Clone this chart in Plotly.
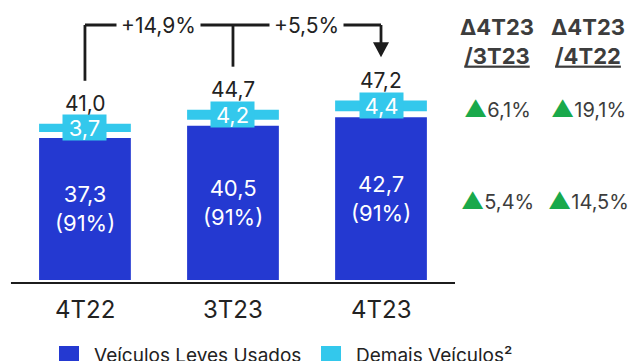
import plotly.graph_objects as go

# ---------------- data ----------------
categories = ["4T22", "3T23", "4T23"]
leves = [37.3, 40.5, 42.7]            # Veículos Leves Usados
demais = [3.7, 4.2, 4.4]              # Demais Veículos²
totals = [41.0, 44.7, 47.2]
leves_labels = ["37,3", "40,5", "42,7"]
share_labels = ["(91%)", "(91%)", "(91%)"]
demais_labels = ["3,7", "4,2", "4,4"]
total_labels = ["41,0", "44,7", "47,2"]
growth_labels = ["+14,9%", "+5,5%"]
table_headers = ["Δ4T23<br><u>/3T23</u>", "Δ4T23<br><u>/4T22</u>"]
table_demais = ["6,1%", "19,1%"]
table_leves = ["5,4%", "14,5%"]
legend_names = ["Veículos Leves Usados", "Demais Veículos²"]

# ---------------- style ----------------
DARK = "#2439D1"
LIGHT = "#33C8EC"
GREEN = "#19A94B"
TXT = "#222222"
GRAY = "#3d3d3d"
FONT = "Inter, Lato, sans-serif"

W, H = 643, 361
PB = 283                      # plot bottom in px (margin b = 78)
YMIN, YMAX = -0.79, 73.49
XMIN, XMAX = -0.574, 3.77
PPU_Y = PB / (YMAX - YMIN)
PPU_X = W / (XMAX - XMIN)
GAP = 6 / PPU_Y               # white separation between segments


def y_px(v):
    return PB - (v - YMIN) * PPU_Y


def y_from_px(p):
    return YMIN + (PB - p) / PPU_Y


def py(p):  # pixel -> paper y
    return 1 - p / PB


def px(p):  # pixel -> paper x
    return p / W


fig = go.Figure()
fig.add_trace(go.Bar(x=categories, y=leves, marker=dict(color=DARK, line=dict(width=0)),
                     width=0.62, name=legend_names[0], showlegend=False, hoverinfo="skip"))
fig.add_trace(go.Bar(x=categories, y=[d - GAP for d in demais], base=[l + GAP for l in leves],
                     marker=dict(color=LIGHT, line=dict(width=0)), width=0.62,
                     name=legend_names[1], showlegend=False, hoverinfo="skip"))

ann = []
shapes = []
for i, c in enumerate(categories):
    # inside labels
    ann.append(dict(x=c, y=leves[i] / 2, text=f"{leves_labels[i]}<br>{share_labels[i]}",
                    showarrow=False, xanchor="center", yanchor="middle",
                    font=dict(size=22, color="white", family=FONT)))
    # light segment label box
    ann.append(dict(x=c, y=leves[i] + GAP + (demais[i] - GAP) / 2, text=demais_labels[i],
                    showarrow=False, bgcolor=LIGHT, width=43, height=25, borderpad=0,
                    xanchor="center", yanchor="middle",
                    font=dict(size=22, color="white", family=FONT)))
    # totals
    ann.append(dict(x=c, y=totals[i], yshift=20, text=total_labels[i], showarrow=False,
                    xanchor="center", yanchor="middle", font=dict(size=21, color=TXT, family=FONT)))
    # category labels
    ann.append(dict(x=c, xref="x", yref="paper", y=py(309), text=c, showarrow=False,
                    xanchor="center", yanchor="middle", font=dict(size=24, color=TXT, family=FONT)))

# bracket lines
LINE_Y = y_from_px(25)
LW = 2.8
LC = "#1c1c1c"
shapes.append(dict(type="line", xref="x", yref="y", x0=0, x1=2, y0=LINE_Y, y1=LINE_Y,
                   line=dict(color=LC, width=LW)))
shapes.append(dict(type="line", xref="x", yref="y", x0=0, x1=0, y0=LINE_Y,
                   y1=y_from_px(y_px(totals[0]) - 43), line=dict(color=LC, width=LW)))
shapes.append(dict(type="line", xref="x", yref="y", x0=1, x1=1, y0=LINE_Y,
                   y1=y_from_px(y_px(totals[1]) - 43), line=dict(color=LC, width=LW)))
tip = y_px(totals[2]) - 43
shapes.append(dict(type="line", xref="x", yref="y", x0=2, x1=2, y0=LINE_Y,
                   y1=y_from_px(tip - 14), line=dict(color=LC, width=LW)))
hw = 8 / PPU_X
shapes.append(dict(type="path", xref="x", yref="y",
                   path=f"M {2 - hw} {y_from_px(tip - 15)} L {2 + hw} {y_from_px(tip - 15)} "
                        f"L 2 {y_from_px(tip)} Z",
                   fillcolor=LC, line=dict(width=0)))
for j, g in enumerate(growth_labels):
    ann.append(dict(x=j + 0.5, y=LINE_Y, text=g, showarrow=False, bgcolor="white", borderpad=4,
                    xanchor="center", yanchor="middle",
                    font=dict(size=21, color=TXT, family=FONT)))

# axis line
shapes.append(dict(type="line", xref="x", yref="paper", x0=-0.5, x1=2.5, y0=0, y1=0,
                   line=dict(color=LC, width=2)))

# right table
col_x = [497, 588]
TRI = f"<span style='color:{GREEN};font-size:23px'>▲</span>"
for k in range(2):
    ann.append(dict(xref="paper", yref="paper", x=px(col_x[k]), y=py(41),
                    text=f"<b>{table_headers[k]}</b>", xanchor="center", yanchor="middle",
                    showarrow=False, font=dict(size=22, color=GRAY, family=FONT)))
    ann.append(dict(xref="paper", yref="paper", x=px(col_x[k]), y=py(109),
                    text=f"{TRI}{table_demais[k]}",
                    xanchor="center", yanchor="middle",
                    showarrow=False, font=dict(size=20, color=GRAY, family=FONT)))
    ann.append(dict(xref="paper", yref="paper", x=px(col_x[k]), y=py(201),
                    text=f"{TRI}{table_leves[k]}",
                    xanchor="center", yanchor="middle",
                    showarrow=False, font=dict(size=20, color=GRAY, family=FONT)))

# manual legend
leg_sq = [59, 321]
leg_cols = [DARK, LIGHT]
for k in range(2):
    shapes.append(dict(type="rect", xref="paper", yref="paper", x0=px(leg_sq[k]), x1=px(leg_sq[k] + 20),
                       y0=py(346), y1=py(366), fillcolor=leg_cols[k], line=dict(width=0)))
    ann.append(dict(xref="paper", yref="paper", x=px(leg_sq[k] + 33), y=py(342), xanchor="left",
                    yanchor="top", text=legend_names[k], showarrow=False,
                    font=dict(size=19, color=TXT, family=FONT)))

fig.update_layout(
    width=W, height=H, margin=dict(l=0, r=0, t=0, b=H - PB),
    paper_bgcolor="white", plot_bgcolor="white",
    barmode="overlay", showlegend=False,
    font=dict(family=FONT, color=TXT),
    xaxis=dict(range=[XMIN, XMAX], showgrid=False, zeroline=False, showline=False,
               showticklabels=False, ticks="", fixedrange=True),
    yaxis=dict(range=[YMIN, YMAX], visible=False, fixedrange=True),
    annotations=ann, shapes=shapes,
)
fig.write_html("out.html")
